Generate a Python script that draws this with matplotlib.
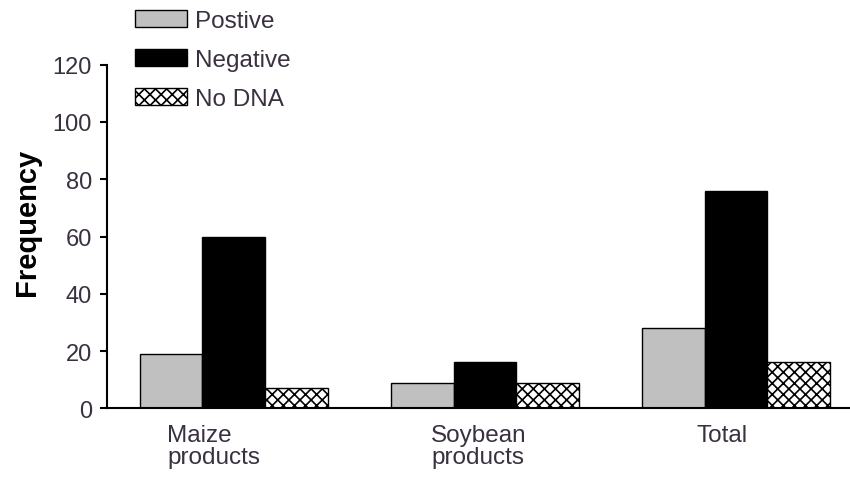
import matplotlib
matplotlib.use("Agg")
import matplotlib.pyplot as plt
import matplotlib.transforms as mtransforms
import numpy as np

categories = ["Maize\nproducts", "Soybean\nproducts", "Total"]
series_names = ["Postive", "Negative", "No DNA"]
positive = [19, 9, 28]
negative = [60, 16, 76]
no_dna = [7, 9, 16]
y_ticks = [0, 20, 40, 60, 80, 100, 120]

plt.rcParams['font.family'] = ['Liberation Sans', 'DejaVu Sans']
plt.rcParams['hatch.linewidth'] = 1.2

text_color = '#3a3040'

fig = plt.figure(figsize=(8.5, 4.81), dpi=100)
ax = fig.add_axes([107.3 / 850, 71.7 / 481, 1 - 107.3 / 850, 343.6 / 481])

x = np.arange(len(categories))
w = 0.25
ax.bar(x - w, positive, w, color='#c0c0c0', edgecolor='black', linewidth=1.0, label=series_names[0])
ax.bar(x, negative, w, color='black', edgecolor='black', linewidth=1.0, label=series_names[1])
ax.bar(x + w, no_dna, w, color='white', edgecolor='black', hatch='xxx', linewidth=1.0, label=series_names[2])

ax.set_xlim(-0.504, 2.454)
ax.set_ylim(0, 120)
ax.set_yticks(y_ticks)
ax.set_yticklabels([str(v) for v in y_ticks], fontsize=17, color=text_color)
ax.set_xticks(x)
ax.set_xticklabels(categories, fontsize=17.5, color=text_color, multialignment='left', linespacing=1.0)
ax.tick_params(axis='x', length=0, pad=11)
ax.tick_params(axis='y', direction='out', length=5, width=1.5, pad=6)

# small horizontal offsets of category labels as in the reference
offsets_px = [-20, -6, -14]
for lbl, dx in zip(ax.get_xticklabels(), offsets_px):
    lbl.set_transform(lbl.get_transform() + mtransforms.ScaledTranslation(dx / 100, 0, fig.dpi_scale_trans))

for s in ['top', 'right']:
    ax.spines[s].set_visible(False)
for s in ['left', 'bottom']:
    ax.spines[s].set_linewidth(1.5)

ax.set_ylabel('Frequency', fontsize=21, fontweight='bold', va='center')
ax.yaxis.set_label_coords(-0.108, 0.544)

fig.legend(loc='upper left', bbox_to_anchor=(135 / 850, 1 - 11 / 481),
           frameon=False, fontsize=17.5, handlelength=2.15, handleheight=0.65,
           handletextpad=0.33, labelspacing=0.70, borderpad=0, borderaxespad=0,
           labelcolor=text_color)

fig.savefig('out.png', dpi=100)
